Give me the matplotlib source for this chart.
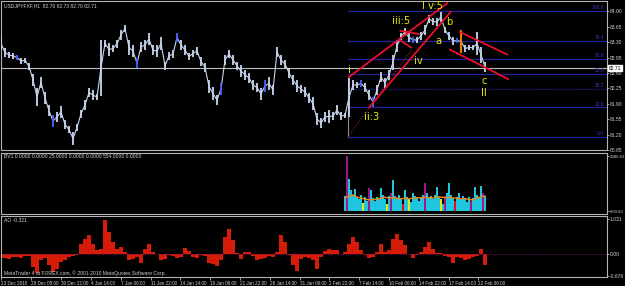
import matplotlib
matplotlib.use("Agg")
import matplotlib.pyplot as plt
from matplotlib import transforms
import numpy as np

# ---------------- data ----------------
# H1 bars (every 4th pixel column), high / low prices
bar_high = [83.42, 83.17, 83.08, 83.05, 83.01, 82.94, 82.94, 82.83, 82.58, 82.26,
            82.51, 82.17, 81.87, 81.64, 81.71, 81.85, 81.53, 81.39, 81.26, 81.44,
            81.76, 81.98, 82.26, 82.21, 82.12, 83.35, 83.35, 83.28, 83.23, 83.35,
            83.58, 83.69, 83.35, 83.23, 82.94, 83.30, 83.35, 83.51, 83.23, 83.23,
            83.42, 82.85, 83.08, 83.12, 83.51, 83.35, 83.23, 83.05, 83.12, 83.19,
            82.96, 82.83, 82.44, 82.28, 82.10, 82.37, 83.01, 83.12, 83.01, 82.85,
            82.78, 82.67, 82.60, 82.44, 82.37, 82.26, 82.44, 82.51, 82.33, 83.19,
            83.01, 82.89, 82.71, 82.55, 82.44, 82.33, 82.28, 82.14, 82.05, 81.69,
            81.58, 81.71, 81.76, 81.71, 81.87, 81.71, 81.69, 82.49, 82.44, 82.39,
            82.44, 82.37, 82.21, 82.05, 82.33, 82.62, 82.49, 82.67, 83.01, 83.35,
            83.51, 83.62, 83.51, 83.42, 83.42, 83.53, 83.69, 83.92, 83.85, 83.85,
            83.98, 83.64, 83.53, 83.42, 83.39, 83.58, 83.23, 83.23, 83.23, 83.53,
            83.19, 82.85]
bar_low = [83.12, 82.96, 82.94, 82.92, 82.89, 82.80, 82.83, 82.67, 82.30, 81.85,
           82.26, 81.89, 81.62, 81.37, 81.49, 81.58, 81.33, 81.23, 80.96, 81.28,
           81.58, 81.76, 82.05, 81.98, 81.98, 82.08, 83.19, 82.98, 83.08, 83.17,
           83.35, 83.53, 83.01, 82.96, 82.71, 83.08, 83.12, 83.23, 83.01, 82.96,
           83.12, 82.67, 82.89, 82.94, 83.30, 83.12, 83.01, 82.89, 82.96, 83.01,
           82.76, 82.62, 82.14, 81.98, 81.87, 82.10, 82.78, 82.94, 82.78, 82.67,
           82.51, 82.44, 82.37, 82.21, 82.17, 81.98, 82.17, 82.21, 82.10, 82.96,
           82.78, 82.71, 82.49, 82.33, 82.17, 82.14, 82.05, 81.92, 81.76, 81.42,
           81.35, 81.49, 81.46, 81.53, 81.64, 81.53, 81.58, 81.60, 82.21, 82.26,
           82.28, 82.17, 81.98, 81.83, 82.10, 82.39, 82.26, 82.44, 82.67, 83.08,
           83.35, 83.44, 83.30, 83.28, 83.28, 83.35, 83.46, 83.73, 83.69, 83.67,
           83.76, 83.51, 83.35, 83.23, 83.28, 83.05, 83.08, 83.12, 83.12, 83.01,
           82.83, 82.62]
blue_bars = [4, 13, 34, 44, 55, 66, 90, 93, 103, 114]
orange_bar = 115

price_ticks = [84.00, 83.65, 83.30, 82.95, 82.60, 82.25, 81.90, 81.55, 81.20, 80.85]
bid_price = 82.71

fib_low, fib_high = 81.14, 84.00
fib_levels = [0.0, 23.6, 38.2, 50.0, 61.8, 76.4, 100.0]

# Better-volume indicator
vol_values = [650, 2386, 1390, 900, 700, 950, 600, 500, 700, 350, 600, 450, 1000, 900,
              550, 450, 600, 500, 1000, 700, 500, 300, 650, 800, 1340, 650, 550, 700,
              500, 300, 900, 600, 500, 400, 800, 650, 550, 450, 600, 700, 1215, 800,
              550, 650, 500, 700, 1030, 600, 500, 300, 650, 800, 1215, 700, 550, 450,
              600, 780, 500, 650, 550, 400, 600, 450, 550, 1030, 700, 550, 1080, 800, 650]
vol_kind = list("cmcccccccyccmcccccccc" "ycmcccccrcc" "ycccccccmccccccc" "ycmccccr" "cccccccmcccc")
vol_ma = [560, 650, 700, 600, 560, 520, 480, 500, 520, 560, 600, 560, 580, 560, 520, 560,
          520, 560, 580, 560, 600, 580, 560, 620, 600, 580, 600, 560, 560, 520, 540, 500,
          480, 560, 620, 650]

# Awesome oscillator
ao_values = [-0.14, -0.14, -0.15, -0.10, -0.09, -0.14, -0.06, -0.06, -0.40, -0.58,
             -0.20, -0.14, -0.34, -0.55, -0.45, -0.25, -0.19, -0.10, -0.08, -0.04,
             0.30, 0.45, 0.56, 0.30, 0.12, 0.15, 1.00, 0.65, 0.35, 0.15,
             0.20, 0.05, -0.20, -0.15, -0.10, -0.29, 0.15, 0.30, 0.05, 0.00,
             -0.19, -0.15, -0.05, -0.08, -0.12, -0.10, 0.16, 0.08, -0.10, -0.14,
             -0.05, -0.08, -0.29, -0.30, -0.37, -0.20, 0.50, 0.73, 0.40, 0.02,
             -0.15, 0.06, 0.05, -0.08, -0.18, -0.16, -0.12, -0.08, -0.09, 0.06,
             0.55, 0.35, -0.03, -0.35, -0.51, -0.15, -0.10, -0.12, -0.20, -0.46,
             -0.10, 0.08, 0.15, 0.10, 0.12, -0.02, 0.05, 0.30, 0.50, 0.35,
             0.10, -0.05, -0.14, -0.10, 0.05, 0.29, 0.05, 0.10, 0.45, 0.59,
             0.40, 0.25, 0.00, -0.14, -0.05, 0.05, 0.20, 0.36, 0.15, 0.03,
             0.02, -0.08, -0.10, -0.29, -0.10, -0.12, -0.18, -0.15, -0.10, -0.08,
             0.13, -0.34]

time_labels = ["23 Dec 2010", "28 Dec 05:00", "30 Dec 21:00", "4 Jan 14:00", "7 Jan 06:00",
               "11 Jan 22:00", "14 Jan 14:00", "19 Jan 06:00", "21 Jan 22:00", "26 Jan 14:00",
               "31 Jan 06:00", "2 Feb 22:00", "7 Feb 14:00", "10 Feb 06:00", "14 Feb 22:00",
               "17 Feb 14:00", "22 Feb 06:00"]

# ---------------- layout ----------------
plt.rcParams["font.family"] = ["Liberation Sans Narrow", "Liberation Sans", "DejaVu Sans"]
W, H = 625, 286
fig = plt.figure(figsize=(W / 100, H / 100), dpi=100, facecolor="black")
GREY = "#b4b4b4"
TXT = "#d2d2d2"
FS = 3.6


def add_panel(y0, y1, ylim, fs=FS):
    ax = fig.add_axes([1 / W, 1 - y1 / H, 606 / W, (y1 - y0) / H])
    ax.set_facecolor("black")
    ax.set_xlim(1, 607)
    ax.set_ylim(*ylim)
    for s in ax.spines.values():
        s.set_color(GREY)
        s.set_linewidth(0.8)
    ax.set_xticks([])
    ax.yaxis.tick_right()
    ax.tick_params(axis="y", colors=GREY, labelcolor=TXT, labelsize=fs, length=1.2,
                   width=0.6, pad=0.6)
    return ax


ax = add_panel(1, 150, (80.848, 84.234))
axv = add_panel(153, 214, (-130, 2517), fs=3.1)
axa = add_panel(216, 277, (-0.696, 1.125))

# main price panel
x_bars = 1 + 4 * np.arange(len(bar_high))
colors = ["#c8d6ee"] * len(bar_high)
for i in blue_bars:
    colors[i] = "#4a62ff"
colors[orange_bar] = "#ff8c00"
mid = (np.array(bar_high) + np.array(bar_low)) / 2
ax.plot(x_bars, mid, color="#c8d6ee", lw=0.8, zorder=3)
ax.vlines(x_bars, bar_low, bar_high, colors=colors, lw=1.3, zorder=4)

ax.axhline(bid_price, color="#bdbdbd", lw=0.8, zorder=2)
for lvl in fib_levels:
    p = fib_low + lvl / 100 * (fib_high - fib_low)
    ls = (0, (1, 1)) if lvl == 38.2 else "-"
    ax.plot([348, 607], [p, p], color="#23239a", lw=0.9, ls=ls, zorder=1)
    ax.text(604, p + 0.02, f"{lvl:.1f}", color="#3a3ab8", fontsize=3.5,
            ha="right", va="bottom", zorder=5)
ax.vlines(348, fib_low, 82.49, colors="#8c8c8c", lw=0.8, zorder=2)
ax.plot([348, 412], [fib_low, 83.14], color="#9a2040", lw=0.8, ls=(0, (1, 1.5)), zorder=2)

red_lines = [((348, 82.49), (448, 84.196)), ((368.5, 81.80), (451.4, 84.007)),
             ((399.6, 83.56), (419.5, 83.48)), ((399.6, 83.35), (411.5, 83.17)),
             ((459, 83.54), (508, 83.01)), ((449, 83.14), (509, 82.45))]
for (xa, ya), (xb, yb) in red_lines:
    ax.plot([xa, xb], [ya, yb], color="#e8102a", lw=1.3, zorder=6, solid_capstyle="butt")

waves = [("i", 349, 82.67), ("ii:3", 372, 81.60), ("iii:5", 401, 83.78), ("iv", 418, 82.87),
         ("I v:5", 432, 84.12), ("a", 438, 83.33), ("b", 449, 83.76), ("c", 484, 82.42),
         ("II", 484, 82.14)]
for s, xw, yw in waves:
    ax.text(xw, yw, s, color="#e6e600", fontsize=7.2, ha="center", va="center", zorder=7,
            family="DejaVu Sans")

ax.set_yticks(price_ticks)
ax.set_yticklabels([f"{v:.2f}" for v in price_ticks])
ax.text(1.003, bid_price, f"{bid_price:.2f}",
        transform=transforms.blended_transform_factory(ax.transAxes, ax.transData),
        color="black", fontsize=FS, ha="left", va="center", zorder=8,
        bbox=dict(facecolor="white", edgecolor="white", pad=0.5))

# volume panel
vcol = {"c": "#1fc4de", "m": "#9a1a8a", "y": "#e6e61a", "r": "#e01010"}
x_vol = 345 + 2 * np.arange(len(vol_values))
axv.bar(x_vol, vol_values, width=1.6, color=[vcol[k] for k in vol_kind], linewidth=0)
axv.plot(345 + 4 * np.arange(len(vol_ma)), vol_ma, color="#f08a10", lw=1.0)
axv.set_yticks([2386.63, 0])
axv.set_yticklabels(["2386.63", "0.00.63"])

# AO panel
x_ao = 1 + 4 * np.arange(len(ao_values))
axa.bar(x_ao, ao_values, width=4, color="#d41c08", linewidth=0)
axa.axhline(0, color="#7a1060", lw=0.6, ls=(0, (1, 1)))
axa.set_yticks([1.031, 0.0, -0.676])
axa.set_yticklabels(["1.031", "0.00", "-0.676"])
tick_px = [1, 31, 61, 91, 121, 151, 180, 210, 240, 270, 300, 329, 359, 389, 419, 449, 478]
axa.set_xticks(tick_px)
axa.set_xticklabels(time_labels)
axa.tick_params(axis="x", colors=GREY, labelcolor=TXT, labelsize=3.3, length=2,
                width=0.6, pad=0.8)
for lab in axa.get_xticklabels():
    lab.set_horizontalalignment("left")

# header / footer texts
def ftxt(xp, yp, s):
    fig.text(xp / W, 1 - yp / H, s, color=TXT, fontsize=FS, va="center", ha="left")

ftxt(4, 5.5, "USDJPYFXF,H1  82.70 82.73 82.70 82.71")
ftxt(4, 157, "BV1 0.0000 0.0000 25.0000 0.0000 0.0000 554.0000 0.0000")
ftxt(4, 221, "AO -0.321")
ftxt(4, 273, "MetaTrader 4 at FOREX.com, \u00a9 2001-2010 MetaQuotes Software Corp.")

fig.savefig("out.png", dpi=100, facecolor="black")
